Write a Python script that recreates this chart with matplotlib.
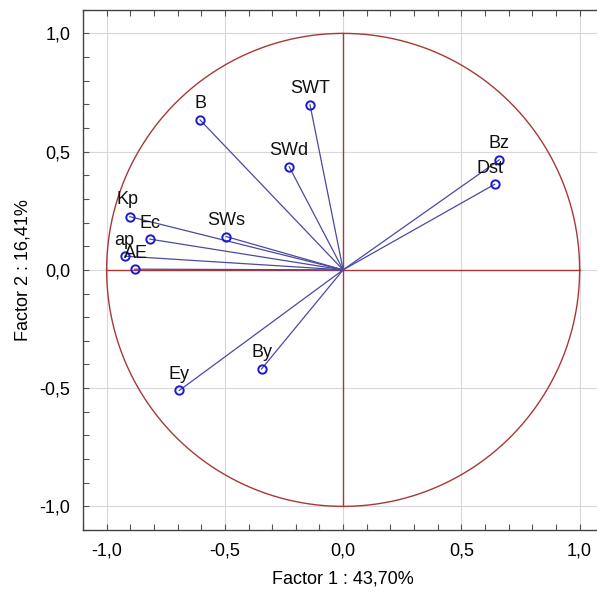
import numpy as np
import matplotlib.pyplot as plt
from matplotlib.ticker import FuncFormatter, MultipleLocator

plt.rcParams["font.family"] = ["Liberation Sans", "DejaVu Sans"]

names = ["B", "SWT", "SWd", "Bz", "Dst", "Kp", "Ec", "SWs", "ap", "AE", "Ey", "By"]
f1 = [-0.605, -0.140, -0.228, 0.660, 0.641, -0.902, -0.817, -0.495, -0.923, -0.881, -0.693, -0.345]
f2 = [0.634, 0.698, 0.436, 0.465, 0.362, 0.225, 0.130, 0.141, 0.058, 0.003, -0.510, -0.419]
# label offsets (points) relative to the marker
offs = {"Kp": (-1.5, 12), "Dst": (-3.5, 11.5), "ap": (-0.5, 11.5), "AE": (0.5, 11)}

fig = plt.figure(figsize=(5.97, 5.93), dpi=100)
ax = fig.add_axes([0.139, 0.1062, 0.8715, 0.8774])

t = np.linspace(0, 2*np.pi, 400)
ax.plot(np.cos(t), np.sin(t), color="#a83838", lw=1.0, zorder=2)
ax.plot([-1, 1], [0, 0], color="#a83838", lw=1.0, zorder=2)
ax.plot([0, 0], [-1, 1], color="#a83838", lw=1.0, zorder=2)

for n, x, y in zip(names, f1, f2):
    ax.plot([0, x], [0, y], color="#4a4aa0", lw=0.9, zorder=3)
    ax.plot(x, y, "o", ms=6, mfc="none", mec="#1a1ad0", mew=1.4, zorder=4)
    dx, dy = offs.get(n, (0, 11.5))
    ax.annotate(n, (x, y), xytext=(dx, dy), textcoords="offset points",
                ha="center", va="center", fontsize=13, color="#111111", zorder=5)

ax.set_xlim(-1.1, 1.1)
ax.set_ylim(-1.1, 1.1)
ax.set_xticks([-1.0, -0.5, 0.0, 0.5, 1.0])
ax.set_yticks([-1.0, -0.5, 0.0, 0.5, 1.0])
ax.xaxis.set_minor_locator(MultipleLocator(0.1))
ax.yaxis.set_minor_locator(MultipleLocator(0.1))
fmt = FuncFormatter(lambda v, p: f"{v:.1f}".replace(".", ",").replace("-0,0", "0,0"))
ax.xaxis.set_major_formatter(fmt)
ax.yaxis.set_major_formatter(fmt)
ax.tick_params(which="both", direction="in", top=True, right=True, length=4,
               width=0.8, color="#555555", labelsize=13, pad=9)
ax.grid(True, which="major", color="#d8d8d8", lw=0.8, zorder=0)
for s in ax.spines.values():
    s.set_color("#444444")
    s.set_linewidth(1.0)

ax.set_xlabel("Factor 1 : 43,70%", fontsize=13, labelpad=8)
ax.set_ylabel("Factor 2 : 16,41%", fontsize=13, labelpad=6)

fig.savefig("out.png", dpi=100)
